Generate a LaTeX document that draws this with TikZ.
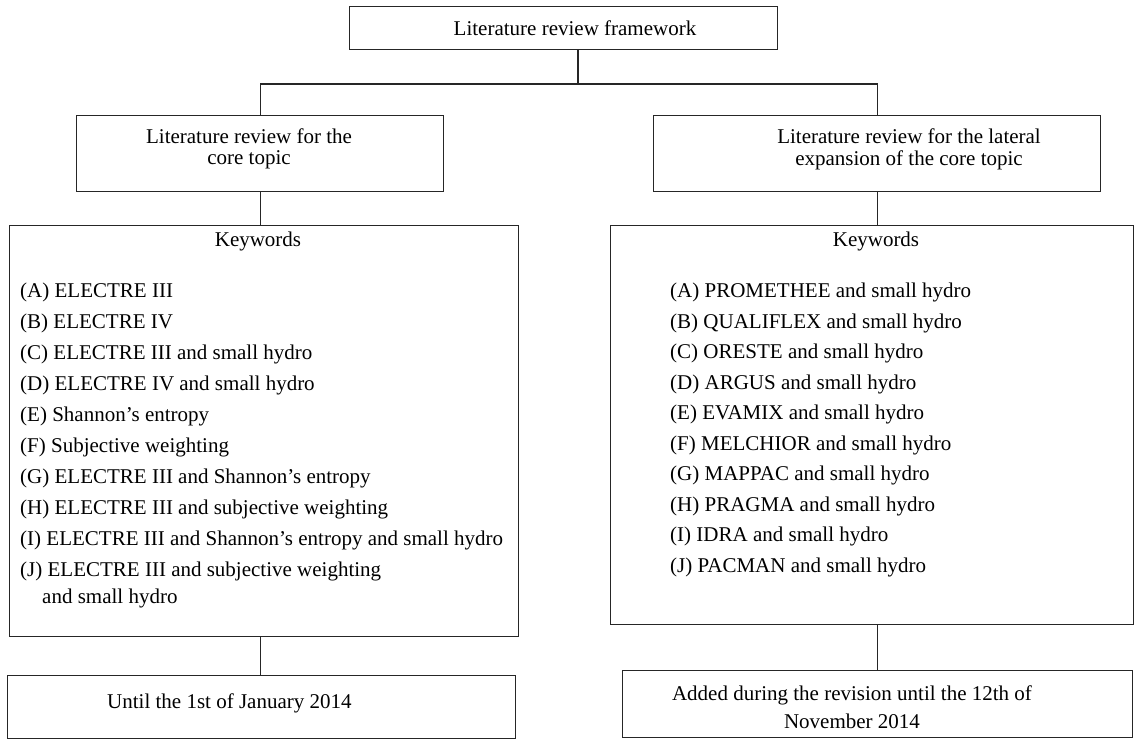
\documentclass[tikz,border=0pt]{standalone}
\usepackage{fontspec}
\setmainfont{Liberation Serif}
\begin{document}
\begin{tikzpicture}[x=1pt,y=-1pt,
  box/.style={draw=black!85, line width=1.1pt, rectangle, inner sep=0pt, anchor=north west},
  txt/.style={inner sep=0pt, font=\fontsize{21}{30.5}\selectfont},
  conn/.style={draw=black!85, line width=1.1pt}]
\useasboundingbox (0,0) rectangle (1134,739);
% boxes
\node[box, minimum width=428pt, minimum height=43pt] (top) at (349,6) {};
\node[box, minimum width=367pt, minimum height=76pt] (b2l) at (76,115) {};
\node[box, minimum width=447pt, minimum height=76pt] (b2r) at (653,115) {};
\node[box, minimum width=509pt, minimum height=411pt] (kwl) at (9,225) {};
\node[box, minimum width=523pt, minimum height=399pt] (kwr) at (610,225) {};
\node[box, minimum width=508pt, minimum height=63pt] (botl) at (7,675) {};
\node[box, minimum width=510pt, minimum height=67pt] (botr) at (622,670) {};
% texts (base anchor = baseline of the last line)
\node[txt, anchor=base] (ttop) at (575,35) {Literature review framework};
\node[txt, anchor=base, align=center, font=\fontsize{21}{21}\selectfont] (t2l) at (249,164) {Literature review for the\\core topic};
\node[txt, anchor=base, align=center, font=\fontsize{21}{22}\selectfont] (t2r) at (909,165) {Literature review for the lateral\\expansion of the core topic};
\node[txt, anchor=base] (kwlt) at (258,246) {Keywords};
\node[txt, anchor=base] (kwrt) at (876,246) {Keywords};
\node[txt, anchor=base west, align=left, font=\fontsize{21}{30.9}\selectfont] (listl) at (20,603) {(A) ELECTRE III\\
(B) ELECTRE IV\\
(C) ELECTRE III and small hydro\\
(D) ELECTRE IV and small hydro\\
(E) Shannon's entropy\\
(F) Subjective weighting\\
(G) ELECTRE III and Shannon's entropy\\
(H) ELECTRE III and subjective weighting\\
(I) ELECTRE III and Shannon's entropy and small hydro\\
(J) ELECTRE III and subjective weighting\\[-3.9pt]
\hspace*{22pt}and small hydro};
\node[txt, anchor=base west, align=left] (listr) at (670,572) {(A) PROMETHEE and small hydro\\
(B) QUALIFLEX and small hydro\\
(C) ORESTE and small hydro\\
(D) ARGUS and small hydro\\
(E) EVAMIX and small hydro\\
(F) MELCHIOR and small hydro\\
(G) MAPPAC and small hydro\\
(H) PRAGMA and small hydro\\
(I) IDRA and small hydro\\
(J) PACMAN and small hydro};
\node[txt, anchor=base west] (tbl) at (107,708) {Until the 1st of January 2014};
\node[txt, anchor=base, align=center, font=\fontsize{21}{28}\selectfont] (tbr) at (852,728) {Added during the revision until the 12th of\\November 2014};
% connectors
\coordinate (j) at (578,84);
\draw[conn] (top.south -| j) -- (j);
\draw[conn] (b2l.north) |- (j);
\draw[conn] (b2r.north) |- (j);
\draw[conn] (b2l.south) -- (b2l.south |- kwl.north);
\draw[conn] (b2r.south) -- (b2r.south |- kwr.north);
\draw[conn] (b2l.south |- kwl.south) -- (b2l.south |- botl.north);
\draw[conn] (b2r.south |- kwr.south) -- (b2r.south |- botr.north);
\end{tikzpicture}
\end{document}
